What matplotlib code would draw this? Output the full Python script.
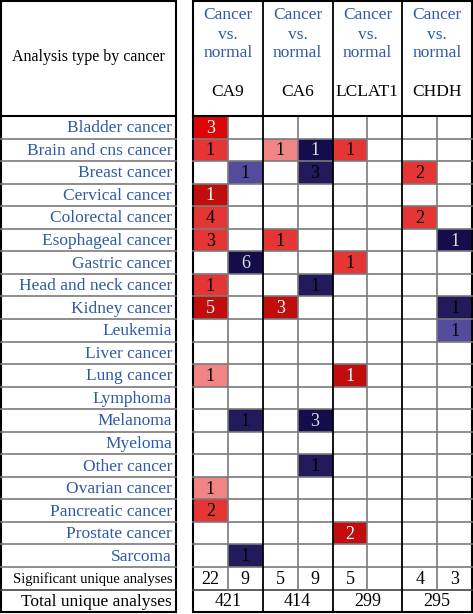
import matplotlib.pyplot as plt
from matplotlib.patches import Rectangle

plt.rcParams['font.family'] = ['Liberation Serif', 'DejaVu Serif']

cancers = ['Bladder cancer', 'Brain and cns cancer', 'Breast cancer', 'Cervical cancer',
           'Colorectal cancer', 'Esophageal cancer', 'Gastric cancer', 'Head and neck cancer',
           'Kidney cancer', 'Leukemia', 'Liver cancer', 'Lung cancer', 'Lymphoma',
           'Melanoma', 'Myeloma', 'Other cancer', 'Ovarian cancer', 'Pancreatic cancer',
           'Prostate cancer', 'Sarcoma']
genes = ['CA9', 'CA6', 'LCLAT1', 'CHDH']
significant = [22, 9, 5, 9, 5, None, 4, 3]
total = [421, 414, 299, 295]

# (cancer row, column, count, shade) ; column = 2*gene + (0 over, 1 under)
# shade: r1 light pink .. r4 darkest red, b1 light blue .. b3 darkest navy
cells = [
    (0, 0, 3, 'r3'), (1, 0, 1, 'r2'), (3, 0, 1, 'r4'), (4, 0, 4, 'r2'), (5, 0, 3, 'r2'),
    (7, 0, 1, 'r2'), (8, 0, 5, 'r4'), (11, 0, 1, 'r1'), (16, 0, 1, 'r1'), (17, 0, 2, 'r2'),
    (2, 1, 1, 'b1'), (6, 1, 6, 'b3'), (13, 1, 1, 'b2'), (19, 1, 1, 'b2'),
    (1, 2, 1, 'r1'), (5, 2, 1, 'r2'), (8, 2, 3, 'r4'),
    (1, 3, 1, 'b3'), (2, 3, 3, 'b2'), (7, 3, 1, 'b2'), (13, 3, 3, 'b3'), (15, 3, 1, 'b2'),
    (1, 4, 1, 'r2'), (6, 4, 1, 'r2'), (11, 4, 1, 'r4'), (18, 4, 2, 'r4'),
    (2, 6, 2, 'r2'), (4, 6, 2, 'r2'),
    (5, 7, 1, 'b3'), (8, 7, 1, 'b2'), (9, 7, 1, 'b1'),
]
shade_colors = {'r1': '#f08585', 'r2': '#e53535', 'r3': '#dd0505', 'r4': '#c20d0d',
                'b1': '#554b9c', 'b2': '#231a5c', 'b3': '#150c4c'}
shade_text = {'r1': 'black', 'r2': 'black', 'r3': 'white', 'r4': 'white',
              'b1': 'black', 'b2': 'black', 'b3': '#dddddd'}

W, H = 473, 614
blue = '#2f5aa6'
grey = '#7a7a7a'
top_body = 116
row_h = 22.55
left_x0, left_x1 = 1, 176
right_x0, right_x1 = 193, 472
col_w = (right_x1 - right_x0) / 8
fs = 12.5

fig = plt.figure(figsize=(W / 100, H / 100), dpi=100)
ax = fig.add_axes([0, 0, 1, 1])
ax.set_xlim(0, W)
ax.set_ylim(H, 0)
ax.axis('off')

n = len(cancers)
y_sig = top_body + n * row_h
y_tot = y_sig + row_h
y_end = y_tot + row_h

# coloured cells
for r, c, v, s in cells:
    x = right_x0 + c * col_w
    y = top_body + r * row_h
    ax.add_patch(Rectangle((x, y), col_w, row_h, facecolor=shade_colors[s], edgecolor='none'))
    ax.text(x + col_w / 2, y + row_h / 2 + 1, str(v), ha='center', va='center',
            fontsize=13, color=shade_text[s])

# row labels
for i, name in enumerate(cancers):
    ax.text(left_x1 - 4, top_body + (i + 0.5) * row_h + 1, name, ha='right', va='center',
            fontsize=fs, color=blue)
ax.text(left_x1 - 4, y_sig + row_h / 2 + 1, 'Significant unique analyses', ha='right',
        va='center', fontsize=10.5, color='black')
ax.text(left_x1 - 4, y_tot + row_h / 2 + 1, 'Total unique analyses', ha='right',
        va='center', fontsize=fs, color='black')
ax.text((left_x0 + left_x1) / 2, 57, 'Analysis type by cancer', ha='center', va='center',
        fontsize=11.5, color='black')

# header of right table
for g, gene in enumerate(genes):
    xc = right_x0 + (2 * g + 1) * col_w
    for txt, yy in [('Cancer', 15), ('vs.', 35), ('normal', 53)]:
        ax.text(xc, yy, txt, ha='center', va='center', fontsize=fs, color=blue)
    ax.text(xc, 92, gene, ha='center', va='center', fontsize=fs, color='black')
    ax.text(xc, y_tot + row_h / 2 + 1, str(total[g]), ha='center', va='center',
            fontsize=13, color='black')
for c, v in enumerate(significant):
    if v is not None:
        ax.text(right_x0 + (c + 0.5) * col_w, y_sig + row_h / 2 + 1, str(v), ha='center',
                va='center', fontsize=13, color='black')

# horizontal grid lines
for i in range(1, n + 2):
    y = top_body + i * row_h
    col = grey if i <= n else '#444444'
    ax.plot([left_x0, left_x1], [y, y], color=col, lw=1.2)
    ax.plot([right_x0, right_x1], [y, y], color=col, lw=1.2)

# vertical grid lines in right table
for c in range(1, 8):
    x = right_x0 + c * col_w
    if c % 2 == 0:
        ax.plot([x, x], [0, y_end], color='black', lw=1.3)
    else:
        ax.plot([x, x], [top_body, y_tot], color=grey, lw=1.2)

# header separators and outer borders
for x0, x1 in [(left_x0, left_x1), (right_x0, right_x1)]:
    ax.plot([x0, x1], [top_body, top_body], color='black', lw=1.5)
    ax.add_patch(Rectangle((x0, 1), x1 - x0, y_end - 1, facecolor='none',
                           edgecolor='black', lw=1.5))

fig.savefig('out.png', dpi=100)
